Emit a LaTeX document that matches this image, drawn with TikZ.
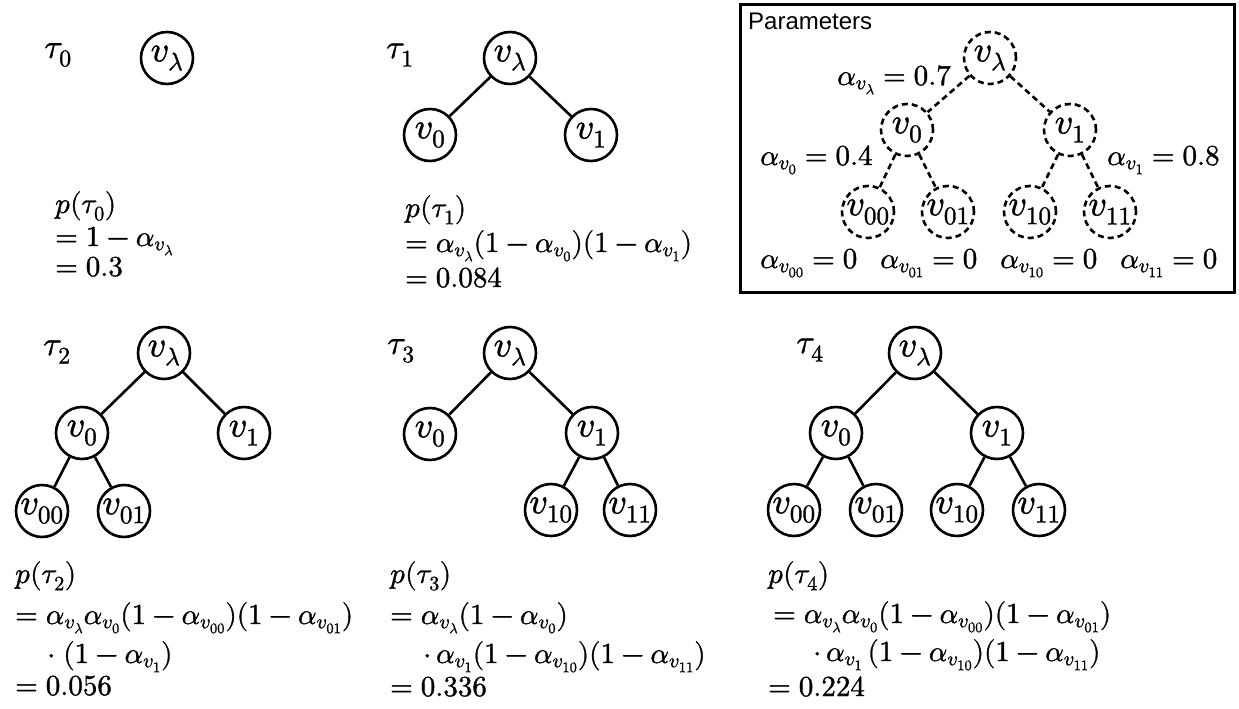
\documentclass[tikz,border=0pt]{standalone}
\usepackage{fontspec}
\usepackage{unicode-math}
\setmathfont{Latin Modern Math}[FakeBold=1.2]
\newfontfamily\paramsans{Liberation Sans}
\newcommand{\av}[1]{\alpha_{\raisebox{3pt}{$\scriptstyle v_{#1}$}}}
\begin{document}
\begin{tikzpicture}[x=1pt,y=-1pt,
  tn/.style={circle, draw, line width=2.6pt, minimum size=52pt, inner sep=0pt, font=\fontsize{36}{40}\selectfont},
  dn/.style={tn, dash pattern=on 6pt off 4pt},
  ed/.style={line width=2.6pt},
  de/.style={line width=2.6pt, dash pattern=on 6pt off 4pt},
  tl/.style={font=\fontsize{34}{38}\selectfont, inner sep=0pt},
  fl/.style={anchor=base west, inner sep=0pt, font=\fontsize{29}{34}\selectfont},
]
\useasboundingbox (0,0) rectangle (1239,709);

% tau_0
\node[tl] (t0) at (58,55) {$\tau_0$};
\node[tn] (a) at (167,58) {$v_\lambda$};
\node[fl] (p0a) at (55,213) {$p(\tau_0)$};
\node[fl] (p0b) at (55,246) {$=1-\av{\lambda}$};
\node[fl] (p0c) at (55,276) {$=0.3$};

% tau_1
\node[tl] (t1) at (400,55) {$\tau_1$};
\node[tn] (b) at (510,58) {$v_\lambda$};
\node[tn] (b0) at (430,135) {$v_0$};
\node[tn] (b1) at (591,135) {$v_1$};
\draw[ed] (b) -- (b0) (b) -- (b1);
\node[fl] (p1a) at (405,217) {$p(\tau_1)$};
\node[fl] (p1b) at (405,252) {$=\av{\lambda}(1-\av{0})(1-\av{1})$};
\node[fl] (p1c) at (405,287) {$=0.084$};

% Parameters box
\node[draw, line width=2.6pt, minimum width=494pt, minimum height=288pt, anchor=north west, inner sep=0pt] (box) at (739,3) {};
\node[anchor=base west, inner sep=0pt, font=\paramsans\fontsize{24}{28}\selectfont] (ptitle) at (748,30) {Parameters};
\node[dn] (q) at (990,58) {$v_\lambda$};
\node[dn] (q0) at (907,130) {$v_0$};
\node[dn] (q1) at (1070,130) {$v_1$};
\node[dn] (q00) at (868,212) {$v_{00}$};
\node[dn] (q01) at (948,212) {$v_{01}$};
\node[dn] (q10) at (1030,212) {$v_{10}$};
\node[dn] (q11) at (1110,212) {$v_{11}$};
\draw[de] (q) -- (q0) (q) -- (q1) (q0) -- (q00) (q0) -- (q01) (q1) -- (q10) (q1) -- (q11);
\node[fl] (al) at (837,85) {$\av{\lambda}=0.7$};
\node[fl] (al0) at (760,165) {$\av{0}=0.4$};
\node[fl] (al1) at (1107,165) {$\av{1}=0.8$};
\node[fl] (al00) at (760,268) {$\av{00}=0$};
\node[fl] (al01) at (880,268) {$\av{01}=0$};
\node[fl] (al10) at (1000,268) {$\av{10}=0$};
\node[fl] (al11) at (1120,268) {$\av{11}=0$};

% tau_2
\node[tl] (t2) at (57,352) {$\tau_2$};
\node[tn] (c) at (164,353) {$v_\lambda$};
\node[tn] (c0) at (82,433) {$v_0$};
\node[tn] (c1) at (244,433) {$v_1$};
\node[tn] (c00) at (42,511) {$v_{00}$};
\node[tn] (c01) at (124,511) {$v_{01}$};
\draw[ed] (c) -- (c0) (c) -- (c1) (c0) -- (c00) (c0) -- (c01);
\node[fl] (p2a) at (15,583) {$p(\tau_2)$};
\node[fl] (p2b) at (15,624) {$=\av{\lambda}\av{0}(1-\av{00})(1-\av{01})$};
\node[fl] (p2c) at (47,663) {$\cdot\;(1-\av{1})$};
\node[fl] (p2d) at (15,695) {$=0.056$};

% tau_3
\node[tl] (t3) at (401,351) {$\tau_3$};
\node[tn] (d) at (510,353) {$v_\lambda$};
\node[tn] (d0) at (430,434) {$v_0$};
\node[tn] (d1) at (592,433) {$v_1$};
\node[tn] (d10) at (551,510) {$v_{10}$};
\node[tn] (d11) at (630,510) {$v_{11}$};
\draw[ed] (d) -- (d0) (d) -- (d1) (d1) -- (d10) (d1) -- (d11);
\node[fl] (p3a) at (390,583) {$p(\tau_3)$};
\node[fl] (p3b) at (390,624) {$=\av{\lambda}(1-\av{0})$};
\node[fl] (p3c) at (423,663) {$\cdot\,\av{1}(1-\av{10})(1-\av{11})$};
\node[fl] (p3d) at (390,696) {$=0.336$};

% tau_4
\node[tl] (t4) at (810,350) {$\tau_4$};
\node[tn] (e) at (915,353) {$v_\lambda$};
\node[tn] (e0) at (836,433) {$v_0$};
\node[tn] (e1) at (997,433) {$v_1$};
\node[tn] (e00) at (794,510) {$v_{00}$};
\node[tn] (e01) at (876,510) {$v_{01}$};
\node[tn] (e10) at (957,510) {$v_{10}$};
\node[tn] (e11) at (1039,510) {$v_{11}$};
\draw[ed] (e) -- (e0) (e) -- (e1) (e0) -- (e00) (e0) -- (e01) (e1) -- (e10) (e1) -- (e11);
\node[fl] (p4a) at (768,583) {$p(\tau_4)$};
\node[fl] (p4b) at (773,623) {$=\av{\lambda}\av{0}(1-\av{00})(1-\av{01})$};
\node[fl] (p4c) at (813,661) {$\cdot\,\av{1}\,(1-\av{10})(1-\av{11})$};
\node[fl] (p4d) at (768,696) {$=0.224$};
\end{tikzpicture}
\end{document}
